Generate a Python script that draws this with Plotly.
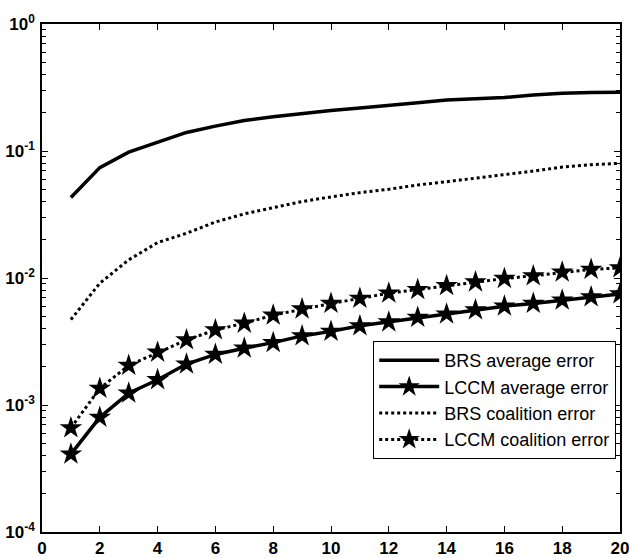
import plotly.graph_objects as go

x = list(range(1, 21))
brs_avg = [0.043, 0.074, 0.098, 0.118, 0.14, 0.157, 0.174, 0.186, 0.198, 0.208,
           0.218, 0.23, 0.24, 0.252, 0.258, 0.264, 0.276, 0.285, 0.289, 0.29]
lccm_avg = [0.00041, 0.0008, 0.00124, 0.00158, 0.0021, 0.0025, 0.0028, 0.0031, 0.0035, 0.0038,
            0.0042, 0.0045, 0.0049, 0.0052, 0.0056, 0.006, 0.0063, 0.0067, 0.0071, 0.0075]
brs_coal = [0.0047, 0.0091, 0.0139, 0.019, 0.0225, 0.0276, 0.032, 0.036, 0.04, 0.0435,
            0.047, 0.05, 0.054, 0.0573, 0.061, 0.065, 0.0695, 0.0747, 0.078, 0.08]
lccm_coal = [0.00066, 0.00135, 0.00205, 0.0026, 0.00325, 0.0039, 0.0044, 0.0051, 0.0057, 0.0063,
             0.0069, 0.0076, 0.0081, 0.0087, 0.0093, 0.0099, 0.0104, 0.0111, 0.0117, 0.012]

x_ticks = [0, 2, 4, 6, 8, 10, 12, 14, 16, 18, 20]
x_labels = ["<b>%d</b>" % v for v in x_ticks]
y_ticks = [1e-4, 1e-3, 1e-2, 1e-1, 1]
y_labels = ["<b>10<sup>-4</sup></b>", "<b>10<sup>-3</sup></b>", "<b>10<sup>-2</sup></b>",
            "<b>10<sup>-1</sup></b>", "<b>10<sup>0</sup></b>"]
minor_vals = [m * 10 ** e for e in range(-4, 0) for m in range(2, 10)]

fig = go.Figure()
fig.add_trace(go.Scatter(x=x, y=brs_avg, mode="lines", name="BRS average error",
                         line=dict(color="black", width=3.5)))
fig.add_trace(go.Scatter(x=x, y=lccm_avg, mode="lines+markers", name="LCCM average error",
                         line=dict(color="black", width=3.5),
                         marker=dict(symbol="star", size=17, color="black")))
fig.add_trace(go.Scatter(x=x, y=brs_coal, mode="lines", name="BRS coalition error",
                         line=dict(color="black", width=3, dash="dot")))
fig.add_trace(go.Scatter(x=x, y=lccm_coal, mode="lines+markers", name="LCCM coalition error",
                         line=dict(color="black", width=3, dash="dot"),
                         marker=dict(symbol="star", size=17, color="black")))

axis_common = dict(showgrid=False, zeroline=False, showline=True, linecolor="black",
                   linewidth=1.5, mirror="ticks", ticks="inside", tickcolor="black",
                   automargin=False,
                   tickfont=dict(family="Liberation Sans, Arial", size=17, color="black"))

fig.update_xaxes(range=[0, 20], tickvals=x_ticks, ticktext=x_labels, ticklen=6, **axis_common)
fig.update_yaxes(type="log", range=[-4, 0], tickvals=y_ticks, ticktext=y_labels, ticklen=6,
                 ticklabelstandoff=2,
                 minor=dict(tickvals=minor_vals, ticks="inside", ticklen=4, tickcolor="black"),
                 **axis_common)

fig.update_layout(
    width=630, height=558,
    margin=dict(l=42, r=10, t=24, b=26),
    paper_bgcolor="white", plot_bgcolor="white",
    font=dict(family="Liberation Sans, Arial", color="black"),
    showlegend=True,
    legend=dict(x=0.573, y=0.376, xanchor="left", yanchor="top",
                bgcolor="white", bordercolor="black", borderwidth=1,
                font=dict(family="Liberation Sans, Arial", size=18, color="black"),
                itemwidth=60, tracegroupgap=0),
)

fig.write_html("out.html")
